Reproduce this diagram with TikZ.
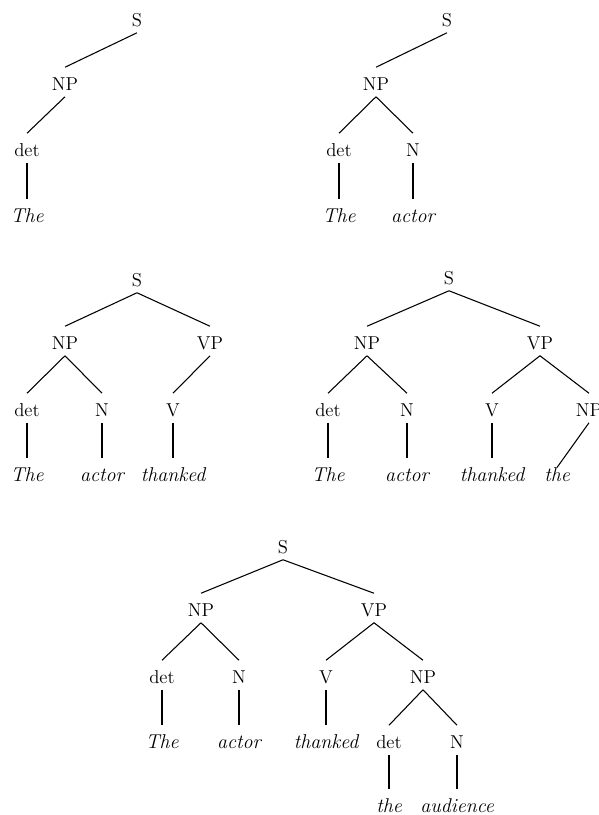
\documentclass[tikz,border=0pt]{standalone}
\begin{document}
\begin{tikzpicture}[x=0.75pt,y=-0.75pt,
  cat/.style={anchor=base,inner sep=0pt,text height=17.25pt,text depth=4.5pt,
              font=\fontsize{14pt}{16pt}\selectfont},
  word/.style={cat,text depth=1pt,font=\fontsize{15pt}{17pt}\selectfont\itshape},
  branch/.style={line width=0.8pt}]
\useasboundingbox (0,0) rectangle (599,815);

% Tree 1: The
\node[cat]  (a-s)   at (137,26.5)  {S};
\node[cat]  (a-np)  at (65,90.5)   {NP};
\node[cat]  (a-det) at (27,156.5)  {det};
\node[word] (a-the) at (27,222.5)  {The};
\draw[branch] (a-s.south) -- (a-np.north);
\draw[branch] (a-np.south) -- (a-det.north);
\draw[branch] (a-det.south) -- (a-the.north);

% Tree 2: The actor
\node[cat]  (b-s)     at (447,26.5)  {S};
\node[cat]  (b-np)    at (376,90.5)  {NP};
\node[cat]  (b-det)   at (339,156.5) {det};
\node[cat]  (b-n)     at (413,156.5) {N};
\node[word] (b-the)   at (339,222.5) {The};
\node[word] (b-actor) at (413,222.5) {actor};
\draw[branch] (b-s.south) -- (b-np.north);
\draw[branch] (b-np.south) -- (b-det.north);
\draw[branch] (b-np.south) -- (b-n.north);
\draw[branch] (b-det.south) -- (b-the.north);
\draw[branch] (b-n.south) -- (b-actor.north);

% Tree 3: The actor thanked
\node[cat]  (c-s)       at (137,286.5) {S};
\node[cat]  (c-np)      at (65,349.5)  {NP};
\node[cat]  (c-vp)      at (210,349.5) {VP};
\node[cat]  (c-det)     at (27,416.5)  {det};
\node[cat]  (c-n)       at (102,416.5) {N};
\node[cat]  (c-v)       at (173,416.5) {V};
\node[word] (c-the)     at (27,481.5)  {The};
\node[word] (c-actor)   at (102,481.5) {actor};
\node[word] (c-thanked) at (173,481.5) {thanked};
\draw[branch] (c-s.south) -- (c-np.north);
\draw[branch] (c-s.south) -- (c-vp.north);
\draw[branch] (c-np.south) -- (c-det.north);
\draw[branch] (c-np.south) -- (c-n.north);
\draw[branch] (c-vp.south) -- (c-v.north);
\draw[branch] (c-det.south) -- (c-the.north);
\draw[branch] (c-n.south) -- (c-actor.north);
\draw[branch] (c-v.south) -- (c-thanked.north);

% Tree 4: The actor thanked the
\node[cat]  (d-s)       at (449,284.5) {S};
\node[cat]  (d-np)      at (367,349.5) {NP};
\node[cat]  (d-vp)      at (540,349.5) {VP};
\node[cat]  (d-det)     at (328,416.5) {det};
\node[cat]  (d-n)       at (407,416.5) {N};
\node[cat]  (d-v)       at (492,416.5) {V};
\node[cat]  (d-np2)     at (589,416.5) {NP};
\node[word] (d-the)     at (328,481.5) {The};
\node[word] (d-actor)   at (407,481.5) {actor};
\node[word] (d-thanked) at (492,481.5) {thanked};
\node[word] (d-the2)    at (557,481.5) {the};
\draw[branch] (d-s.south) -- (d-np.north);
\draw[branch] (d-s.south) -- (d-vp.north);
\draw[branch] (d-np.south) -- (d-det.north);
\draw[branch] (d-np.south) -- (d-n.north);
\draw[branch] (d-vp.south) -- (d-v.north);
\draw[branch] (d-vp.south) -- (d-np2.north);
\draw[branch] (d-det.south) -- (d-the.north);
\draw[branch] (d-n.south) -- (d-actor.north);
\draw[branch] (d-v.south) -- (d-thanked.north);
\draw[branch] (d-np2.south) -- ([yshift=10.5pt]d-the2.base);

% Tree 5: The actor thanked the audience
\node[cat]  (e-s)       at (283,553.5) {S};
\node[cat]  (e-np)      at (201,616.5) {NP};
\node[cat]  (e-vp)      at (374,616.5) {VP};
\node[cat]  (e-det)     at (162,683.5) {det};
\node[cat]  (e-n)       at (239,683.5) {N};
\node[cat]  (e-v)       at (326,683.5) {V};
\node[cat]  (e-np2)     at (423,683.5) {NP};
\node[word] (e-the)     at (162,748.5) {The};
\node[word] (e-actor)   at (239,748.5) {actor};
\node[word] (e-thanked) at (326,748.5) {thanked};
\node[cat]  (e-det2)    at (389,748.5) {det};
\node[cat]  (e-n2)      at (457,748.5) {N};
\node[word] (e-the2)    at (389,812) {the};
\node[word] (e-aud)     at (457,812) {audience};
\draw[branch] (e-s.south) -- (e-np.north);
\draw[branch] (e-s.south) -- (e-vp.north);
\draw[branch] (e-np.south) -- (e-det.north);
\draw[branch] (e-np.south) -- (e-n.north);
\draw[branch] (e-vp.south) -- (e-v.north);
\draw[branch] (e-vp.south) -- (e-np2.north);
\draw[branch] (e-np2.south) -- (e-det2.north);
\draw[branch] (e-np2.south) -- (e-n2.north);
\draw[branch] (e-det.south) -- (e-the.north);
\draw[branch] (e-n.south) -- (e-actor.north);
\draw[branch] (e-v.south) -- (e-thanked.north);
\draw[branch] (e-det2.south) -- (e-the2.north);
\draw[branch] (e-n2.south) -- (e-aud.north);
\end{tikzpicture}
\end{document}
